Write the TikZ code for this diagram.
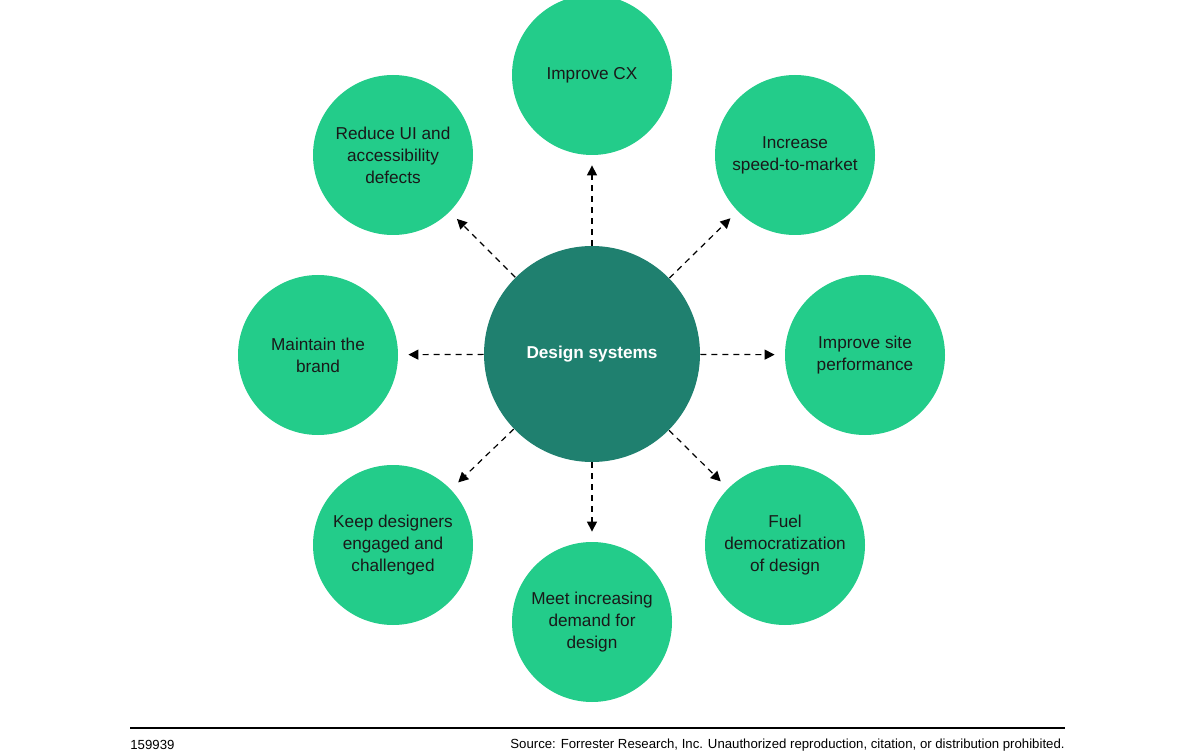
\documentclass[tikz,border=0pt]{standalone}
\usepackage{fontspec}
\setmainfont{Liberation Sans}
\usetikzlibrary{arrows.meta}
\definecolor{outer}{RGB}{35,204,138}
\definecolor{inner}{RGB}{31,128,111}
\tikzset{
  goal/.style={circle,fill=outer,minimum size=80pt,inner sep=0pt,align=center,font=\fontsize{8.6}{11}\selectfont,text=black!90},
  hub/.style={circle,fill=inner,minimum size=108pt,inner sep=0pt,align=center,font=\fontsize{8.6}{11}\selectfont\bfseries,text=white},
  link/.style={dashed,dash pattern=on 3pt off 2.5pt,line width=0.6pt,-{Triangle[length=5pt,width=5pt]},shorten >=5pt}
}
\begin{document}
\begin{tikzpicture}[x=0.5pt,y=-0.5pt]
\useasboundingbox (0,0) rectangle (1200,754);
\node[hub] (c) at (592,354) {Design systems};
\node[goal] (n) at (592,75) {Improve CX};
\node[goal] (ne) at (795,155) {Increase\\speed-to-market};
\node[goal] (e) at (865,355) {Improve site\\performance};
\node[goal] (se) at (785,545) {Fuel\\democratization\\of design};
\node[goal] (s) at (592,622) {Meet increasing\\demand for\\design};
\node[goal] (sw) at (393,545) {Keep designers\\engaged and\\challenged};
\node[goal] (w) at (318,355) {Maintain the\\brand};
\node[goal] (nw) at (393,155) {Reduce UI and\\accessibility\\defects};
\foreach \t in {n,ne,e,se,s,sw,w,nw} \draw[link] (c) -- (\t);
\coordinate (la) at (130,728);
\coordinate (lb) at (1065,728);
\draw[line width=0.7pt] (la) -- (lb);
\node[anchor=west,inner sep=0pt,font=\fontsize{6.6}{8}\selectfont] (id) at (130,745) {159939};
\node[anchor=east,inner sep=0pt,font=\fontsize{6.6}{8}\selectfont] (src) at (1065,745) {Source: Forrester Research, Inc. Unauthorized reproduction, citation, or distribution prohibited.};
\end{tikzpicture}
\end{document}
